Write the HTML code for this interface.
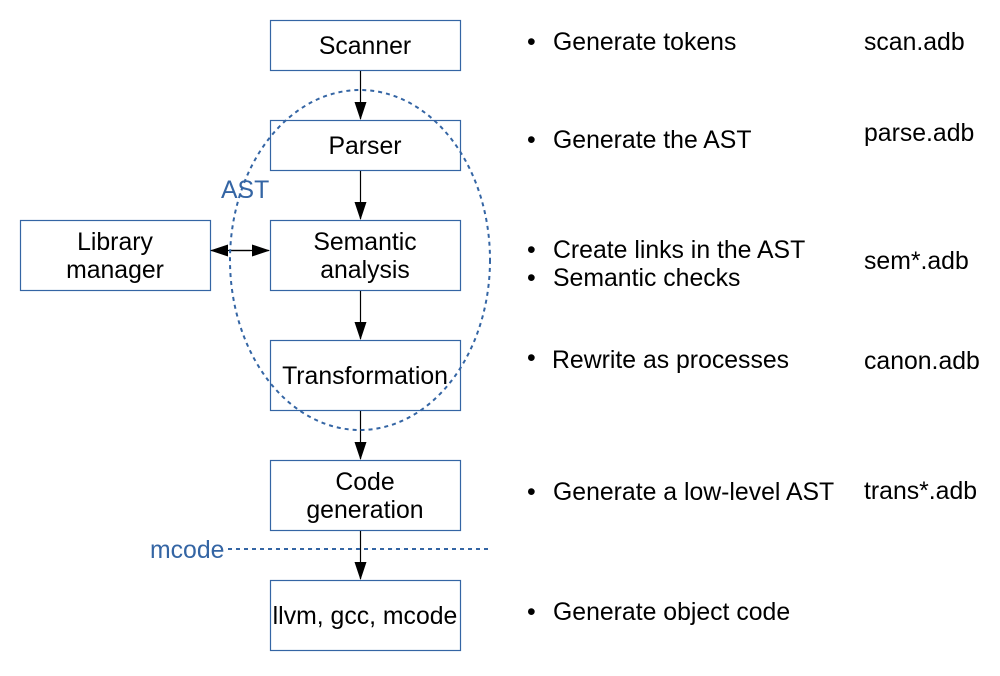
<!DOCTYPE html>
<html><head><style>
body{margin:0;background:#fff;}
svg text{font-family:"Liberation Sans",sans-serif;font-size:24.8px;}
</style></head><body>
<svg width="1000" height="671" xmlns="http://www.w3.org/2000/svg">
<defs>
<marker id="b" markerWidth="18" markerHeight="12" refX="17" refY="6" orient="auto" markerUnits="userSpaceOnUse"><path d="M0,0 L18,6 L0,12z" fill="#000"/></marker></defs>
<g fill="#fff" stroke="#3465a4" stroke-width="1.2">
<rect x="270.5" y="20.5" width="190" height="50"/>
<rect x="270.5" y="120.5" width="190" height="50"/>
<rect x="270.5" y="220.5" width="190" height="70"/>
<rect x="20.5" y="220.5" width="190" height="70"/>
<rect x="270.5" y="340.5" width="190" height="70"/>
<rect x="270.5" y="460.5" width="190" height="70"/>
<rect x="270.5" y="580.5" width="190" height="70"/>
</g>
<g stroke="#000" stroke-width="1.2">
<line x1="360.5" y1="71" x2="360.5" y2="119" marker-end="url(#b)"/>
<line x1="360.5" y1="171" x2="360.5" y2="219" marker-end="url(#b)"/>
<line x1="360.5" y1="291" x2="360.5" y2="339" marker-end="url(#b)"/>
<line x1="360.5" y1="411" x2="360.5" y2="459" marker-end="url(#b)"/>
<line x1="360.5" y1="531" x2="360.5" y2="579" marker-end="url(#b)"/>
<line x1="230" y1="250.5" x2="269" y2="250.5" marker-end="url(#b)"/>
<line x1="250" y1="250.5" x2="211" y2="250.5" marker-end="url(#b)"/>
</g>
<ellipse cx="360" cy="260" rx="130" ry="170" fill="none" stroke="#3465a4" stroke-width="2" stroke-dasharray="4,4"/>
<line x1="228" y1="549" x2="490" y2="549" stroke="#3465a4" stroke-width="2" stroke-dasharray="4,4"/>
<g text-anchor="middle" fill="#000">
<text x="365" y="54">Scanner</text>
<text x="365" y="154">Parser</text>
<text x="365" y="250">Semantic</text>
<text x="365" y="278">analysis</text>
<text x="115" y="250">Library</text>
<text x="115" y="278">manager</text>
<text x="365" y="384">Transformation</text>
<text x="365" y="490">Code</text>
<text x="365" y="518">generation</text>
<text x="365" y="624">llvm, gcc, mcode</text>
</g>
<text x="221" y="198" fill="#3465a4">AST</text>
<text x="150" y="558" fill="#3465a4">mcode</text>
<g fill="#000">
<text x="527" y="50">•</text><text x="553" y="50">Generate tokens</text>
<text x="527" y="148">•</text><text x="553" y="148">Generate the AST</text>
<text x="527" y="258">•</text><text x="553" y="258">Create links in the AST</text>
<text x="527" y="286">•</text><text x="553" y="286">Semantic checks</text>
<text x="527" y="366">•</text><text x="552" y="368">Rewrite as processes</text>
<text x="527" y="500">•</text><text x="553" y="500">Generate a low-level AST</text>
<text x="527" y="620">•</text><text x="553" y="620">Generate object code</text>
<text x="864" y="50">scan.adb</text>
<text x="864" y="141">parse.adb</text>
<text x="864" y="269">sem*.adb</text>
<text x="864" y="369">canon.adb</text>
<text x="864" y="499">trans*.adb</text>
</g>
</svg>
</body></html>
